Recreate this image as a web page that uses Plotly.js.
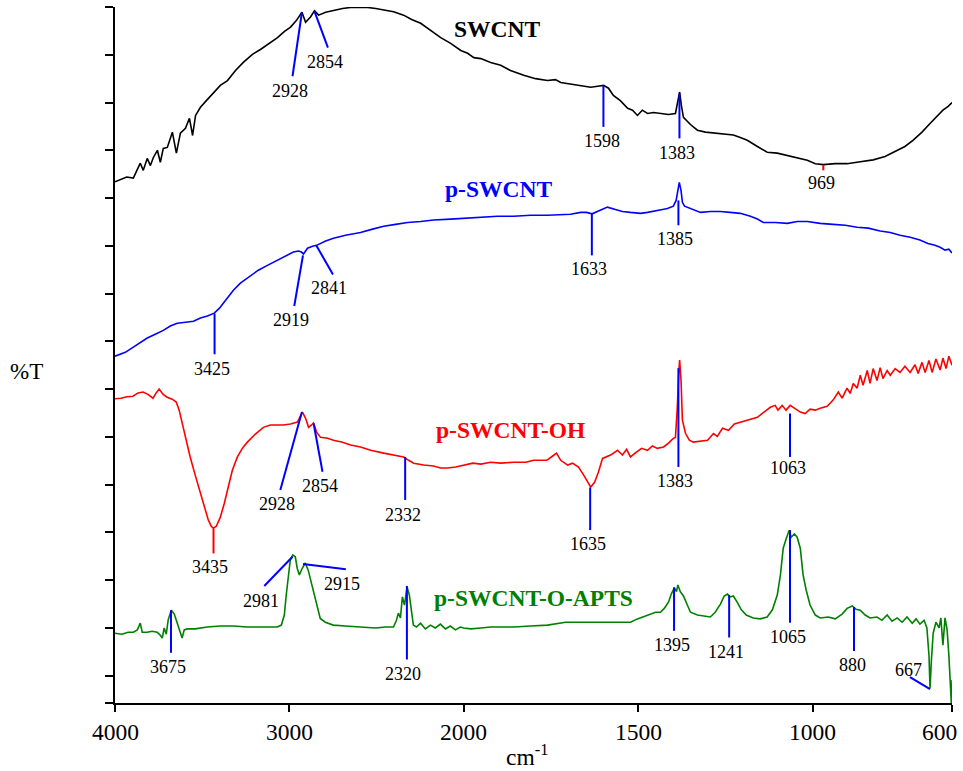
<!DOCTYPE html>
<html><head><meta charset="utf-8">
<script src="https://cdn.plot.ly/plotly-3.0.1.min.js"></script>
<style>html,body{margin:0;padding:0;background:#fff}#chart{width:963px;height:771px}</style>
</head><body><div id="chart"></div>
<script>
// ---- data (wavenumber in cm-1, %T in arbitrary offset units) ----
const swcntWn = [4000,3933,3895,3872,3855,3838,3815,3797,3780,3757,3740,3723,3700,3671,3648,3625,3596,3573,3555,3538,3510,3476,3436,3396,3355,3309,3264,3212,3166,3120,3068,3028,2993,2959,2928,2907,2879,2856,2832,2792,2747,2695,2649,2603,2551,2505,2459,2402,2345,2299,2247,2190,2132,2075,2017,1989,1971,1951,1923,1894,1866,1828,1794,1760,1737,1722,1702,1671,1636,1616,1599,1585,1571,1551,1530,1516,1502,1488,1473,1456,1436,1413,1393,1388,1381,1376,1370,1350,1330,1307,1284,1256,1227,1207,1187,1158,1130,1101,1072,1044,1015,992,969,935,901,863,826,792,757,735,712,686,663,643,626,611,600];
const swcntT = [103.4,104.4,104.2,106.2,107.3,105.8,108.3,106.8,108.5,110.0,107.5,110.4,110.6,113.8,109.4,113.6,114.6,116.7,113.1,117.3,119.0,120.4,121.9,123.6,124.6,126.7,128.4,130.1,131.1,132.2,133.6,134.9,135.8,137.2,138.9,136.8,137.9,139.2,138.3,138.9,139.3,139.7,139.9,139.9,139.9,139.7,139.4,139.0,138.3,137.4,136.6,135.1,133.6,132.4,130.9,130.3,129.4,129.2,128.4,127.8,126.7,125.7,125.0,124.6,124.8,124.2,124.0,123.6,123.2,123.4,123.6,123.0,121.5,120.4,118.8,118.4,117.3,118.4,117.7,117.9,117.7,117.5,117.7,119.4,122.2,119.4,116.9,115.4,114.2,113.8,113.6,113.4,113.2,112.7,112.1,110.8,109.6,109.4,108.9,108.5,107.9,107.2,107.0,107.2,107.2,107.6,108.0,108.7,109.9,110.8,112.1,113.8,115.6,117.1,118.4,119.2,120.0];

const pswcntWn = [4000,3941,3895,3855,3815,3769,3723,3683,3643,3596,3550,3510,3470,3431,3402,3379,3350,3321,3281,3224,3178,3126,3068,3011,2977,2948,2931,2919,2896,2867,2844,2792,2747,2678,2592,2523,2459,2391,2322,2247,2173,2075,2000,1951,1903,1857,1808,1760,1722,1694,1665,1648,1632,1616,1588,1565,1545,1522,1493,1473,1450,1430,1416,1399,1391,1385,1382,1377,1373,1367,1344,1321,1293,1264,1236,1207,1178,1158,1141,1107,1072,1044,1015,978,941,906,872,840,806,777,749,720,692,669,649,634,620,609,600];
const pswcntT = [66.9,67.7,68.8,69.8,70.7,71.5,72.3,73.2,73.8,74.0,74.2,74.9,75.3,75.9,76.9,78.0,79.4,80.7,82.2,83.8,84.9,85.9,87.0,88.0,88.7,88.9,88.7,88.3,89.5,89.9,90.1,91.0,91.6,92.2,92.8,93.5,94.1,94.5,94.9,95.1,95.4,95.6,95.8,96.0,96.2,96.2,96.4,96.4,96.6,96.6,97.0,97.0,96.7,97.2,98.1,97.6,97.2,97.0,96.8,97.0,97.4,97.6,97.8,98.3,99.5,102.0,103.3,101.6,99.1,98.3,97.6,97.0,97.2,97.2,97.0,96.8,96.2,95.6,94.9,94.9,94.7,95.1,95.1,94.7,94.5,94.3,93.9,93.7,93.1,92.8,92.2,91.8,91.2,90.5,90.1,89.7,89.1,89.3,88.5];

const ohWn = [4000,3966,3931,3897,3868,3839,3811,3782,3764,3747,3724,3701,3672,3649,3632,3615,3592,3569,3540,3511,3488,3465,3448,3436,3419,3396,3373,3350,3327,3298,3270,3241,3195,3149,3109,3034,2994,2954,2936,2925,2907,2890,2873,2862,2844,2821,2781,2747,2695,2649,2592,2534,2459,2402,2345,2316,2287,2230,2173,2132,2092,2046,2000,1974,1951,1923,1894,1857,1822,1800,1780,1762,1745,1734,1722,1702,1688,1671,1656,1645,1636,1625,1614,1602,1579,1559,1545,1533,1522,1505,1490,1473,1459,1445,1427,1413,1399,1393,1388,1383,1381,1377,1373,1364,1353,1342,1321,1301,1284,1273,1258,1241,1224,1207,1187,1173,1158,1144,1130,1121,1107,1099,1087,1076,1064,1050,1035,1021,1007,992,978,958,941,926,915,901,892,883,872,863,855,843,835,826,815,806,798,786,777,763,749,735,720,706,697,686,677,666,657,646,634,626,617,609,600];
const ohT = [58.0,58.1,58.4,58.5,59.2,59.4,58.9,58.1,59.2,60.0,58.9,58.3,57.9,57.3,55.6,52.9,49.3,45.8,42.0,38.2,35.3,32.6,31.3,30.9,31.3,33.2,36.1,39.5,43.0,45.8,47.6,48.9,50.6,52.0,52.5,52.5,52.7,53.1,54.6,55.2,53.9,52.0,52.5,52.9,51.0,49.9,49.7,49.3,48.9,48.3,47.9,47.2,46.6,46.2,45.8,45.1,44.5,44.1,43.9,43.5,43.5,43.7,44.1,44.5,44.3,44.7,44.5,44.7,44.7,45.1,45.1,45.1,46.0,46.6,45.1,44.1,44.5,43.7,42.0,40.5,39.5,40.5,42.6,45.5,46.2,47.2,46.2,47.4,45.8,46.8,47.6,47.2,48.1,47.6,47.9,48.7,49.7,49.9,55.6,64.0,66.1,61.9,53.5,50.7,49.3,48.9,49.1,49.3,50.7,50.1,51.8,51.4,52.7,53.1,53.5,53.9,54.1,54.9,55.8,56.2,56.6,55.6,56.6,55.6,56.6,56.0,55.2,54.9,55.8,55.6,56.0,56.4,57.7,59.4,58.1,60.2,59.1,61.2,60.2,62.9,60.8,63.9,61.2,64.3,61.8,64.5,62.2,63.9,62.9,64.3,63.5,64.8,63.5,65.1,63.3,65.6,63.5,66.0,63.5,66.3,64.0,66.5,64.3,66.9,65.0];

const aptsWn = [4000,3960,3925,3895,3872,3855,3844,3815,3787,3758,3741,3729,3718,3706,3695,3677,3660,3643,3626,3615,3603,3586,3540,3471,3397,3322,3242,3167,3109,3069,3046,3029,3018,3006,2995,2981,2966,2955,2943,2926,2909,2892,2875,2857,2840,2823,2794,2748,2679,2593,2506,2449,2403,2386,2375,2363,2352,2340,2325,2312,2300,2289,2271,2248,2220,2191,2163,2134,2105,2077,2048,2019,2000,1980,1951,1923,1894,1857,1808,1760,1708,1665,1608,1551,1522,1502,1473,1450,1436,1425,1413,1405,1396,1390,1386,1379,1370,1359,1350,1330,1307,1293,1279,1264,1253,1244,1236,1227,1216,1204,1190,1170,1150,1130,1115,1101,1092,1084,1075,1067,1061,1052,1044,1035,1027,1018,1007,992,978,955,935,915,901,886,875,863,849,835,815,801,786,772,757,743,729,714,703,692,680,672,666,663,659,654,646,637,632,626,620,614,609,605,602,600];
const aptsT = [8.9,8.7,9.1,9.1,9.6,11.0,9.1,9.1,9.3,9.1,8.5,7.9,10.0,8.7,11.7,13.7,12.9,11.2,9.1,7.9,9.6,9.8,9.8,10.2,10.4,10.4,10.2,10.2,10.2,10.2,10.6,12.7,16.9,21.5,24.2,25.3,24.9,22.5,21.1,22.5,23.6,22.1,19.6,16.9,14.1,12.0,11.2,10.6,10.4,10.2,10.0,10.2,10.2,11.6,13.1,12.1,16.5,14.8,18.6,16.9,13.1,10.6,10.2,11.0,9.8,10.6,10.0,10.8,9.8,10.4,9.6,10.2,10.0,9.8,10.0,10.2,10.2,10.2,10.4,10.6,11.2,11.2,11.2,11.2,11.2,11.9,12.7,13.3,13.3,14.1,15.4,17.1,18.4,17.6,19.0,17.6,16.7,14.8,13.3,12.7,12.5,12.3,13.3,15.0,16.7,17.1,16.5,16.7,15.4,13.8,12.7,12.1,11.9,12.3,13.8,16.9,21.1,26.7,28.8,30.4,29.0,29.7,29.0,26.7,21.1,17.9,14.8,12.7,12.1,12.3,11.9,12.9,14.1,14.6,13.9,13.7,12.7,12.1,12.3,11.6,12.7,11.4,12.1,11.2,12.3,11.0,11.9,10.8,11.6,10.0,4.3,-2.6,3.3,8.9,11.2,10.0,12.1,6.4,12.1,9.6,4.3,-3.0,-5.7,-0.9];

const seriesNames = ['SWCNT','p-SWCNT','p-SWCNT-OH','p-SWCNT-O-APTS'];
const seriesColors = ['#000000','#0000ff','#ff0000','#008000'];
const xTickVals = [4000,3000,2000,1500,1000,600];
const xTickText = ['4000','3000','2000','1500','1000','600'];
const peakLabels = ['2928','2854','1598','1383','969','3425','2919','2841','1633','1385','3435','2928','2854','2332','1635','1383','1063','3675','2981','2915','2320','1395','1241','1065','880','667'];

// ---- layout helpers: x axis is expanded 2x below 2000 cm-1 ----
function toU(wn){ return wn >= 2000 ? wn : 2*wn - 2000; }

const FONT = 'Liberation Serif, Times New Roman, serif';
const wnSets = [swcntWn, pswcntWn, ohWn, aptsWn];
const tSets = [swcntT, pswcntT, ohT, aptsT];
const traces = wnSets.map((w,i)=>({
  x: w.map(toU), y: tSets[i], type:'scatter', mode:'lines', name: seriesNames[i],
  line:{color: seriesColors[i], width:1.6}, hoverinfo:'skip'
}));

// positions of leader lines (wn, T) and label centres
const markPos = [
 [2928,138.9,2982,125.5,2995,122.5,'b'],
 [2857,139.2,2779,131.5,2794,128.5,'b'],
 [1599.5,123.6,1599.5,114.9,1604,111.9,'b'],
 [1381.5,121.9,1381.5,112.5,1389,109.4,'b'],
 [969,106.9,969,105.8,973.5,103.2,'r'],
 [3429,75.8,3429,67.3,3444,64.2,'b'],
 [2922,88.0,2972,77.4,2989,74.4,'b'],
 [2846,90.1,2750,84.0,2770,81.1,'b'],
 [1632.7,96.8,1632.7,88.0,1640.5,85.2,'b'],
 [1384.5,99.5,1384.5,94.3,1394,91.5,'b'],
 [3435,30.8,3435,25.6,3454,22.8,'r'],
 [2928,55.2,3052,38.9,3071,35.9,'b'],
 [2861,52.8,2810,42.7,2827,39.7,'b'],
 [2336,45.8,2336,36.8,2351,33.6,'b'],
 [1637.5,39.4,1637.5,30.5,1645,27.6,'b'],
 [1384.5,64.4,1384.5,43.7,1394,40.8,'b'],
 [1064.5,54.9,1064.5,45.8,1069,43.4,'b'],
 [3679,13.7,3679,4.8,3696,1.8,'b'],
 [2982,24.9,3144,18.8,3163,15.6,'b'],
 [2922,23.4,2676,22.3,2699,19.2,'b'],
 [2326,18.8,2326,3.4,2346,0.4,'b'],
 [1397,18.5,1397,9.4,1403.5,6.4,'b'],
 [1239,16.9,1239,8.0,1248.5,5.0,'b'],
 [1064.5,30.5,1064.5,11.1,1069,8.2,'b'],
 [881,14.4,881,5.2,886,2.2,'b'],
 [663,-2.8,720.5,-0.3,725,1.3,'b']
];
const seriesLabelPos = [[1904,135.3],[1901.5,101.8],[1867,51.4],[1801,16.2]];
// tick-label centres (600 is nudged left to stay inside the page)
const tickLabelWn = [4000,3000,2000,1500,1000,635];

const shapes = markPos.map(m=>({type:'line', xref:'x', yref:'y',
  x0: toU(m[0]), y0: m[1], x1: toU(m[2]), y1: m[3],
  line:{color: m[6]==='r' ? '#ff0000' : '#0000ff', width:2}}));

const annotations = markPos.map((m,i)=>({xref:'x', yref:'y', x: toU(m[4]), y: m[5],
  text: peakLabels[i], showarrow:false, xanchor:'center', yanchor:'middle',
  font:{family:FONT, size:18, color:'#000'}}));

seriesLabelPos.forEach((p,i)=>annotations.push({xref:'x', yref:'y', x: toU(p[0]), y: p[1],
  text:'<b>'+seriesNames[i]+'</b>', showarrow:false, xanchor:'center', yanchor:'middle',
  font:{family:FONT, size:23.5, color: seriesColors[i]}}));

xTickText.forEach((t,i)=>annotations.push({xref:'x', yref:'paper', x: toU(tickLabelWn[i]), y:-0.041,
  text:t, showarrow:false, xanchor:'center', yanchor:'middle',
  font:{family:FONT, size:23.5, color:'#000'}}));

annotations.push({xref:'paper', yref:'paper', x:-0.1063, y:0.4756, text:'%T', showarrow:false,
  xanchor:'center', yanchor:'middle', font:{family:FONT, size:23, color:'#000'}});
annotations.push({xref:'paper', yref:'paper', x:0.4922, y:-0.074, text:'cm<sup>-1</sup>', showarrow:false,
  xanchor:'center', yanchor:'middle', font:{family:FONT, size:23.5, color:'#000'}});

const layout = {
  width:963, height:771,
  margin:{l:115, r:11, t:7, b:68},
  paper_bgcolor:'#fff', plot_bgcolor:'#fff',
  showlegend:false,
  xaxis:{range:[toU(4000), toU(600)], tickvals: xTickVals.map(toU), showticklabels:false,
    ticks:'outside', ticklen:7, tickwidth:2, tickcolor:'#000',
    showline:true, linecolor:'#000', linewidth:2, showgrid:false, zeroline:false},
  yaxis:{range:[-5.71,140], tickvals:[-5.71,0,10,20,30,40,50,60,70,80,90,100,110,120,130,140],
    showticklabels:false, ticks:'outside', ticklen:8, tickwidth:2, tickcolor:'#000',
    showline:true, linecolor:'#000', linewidth:2, showgrid:false, zeroline:false},
  shapes: shapes,
  annotations: annotations
};
Plotly.newPlot('chart', traces, layout, {staticPlot:true, displayModeBar:false});
</script>
</body></html>
